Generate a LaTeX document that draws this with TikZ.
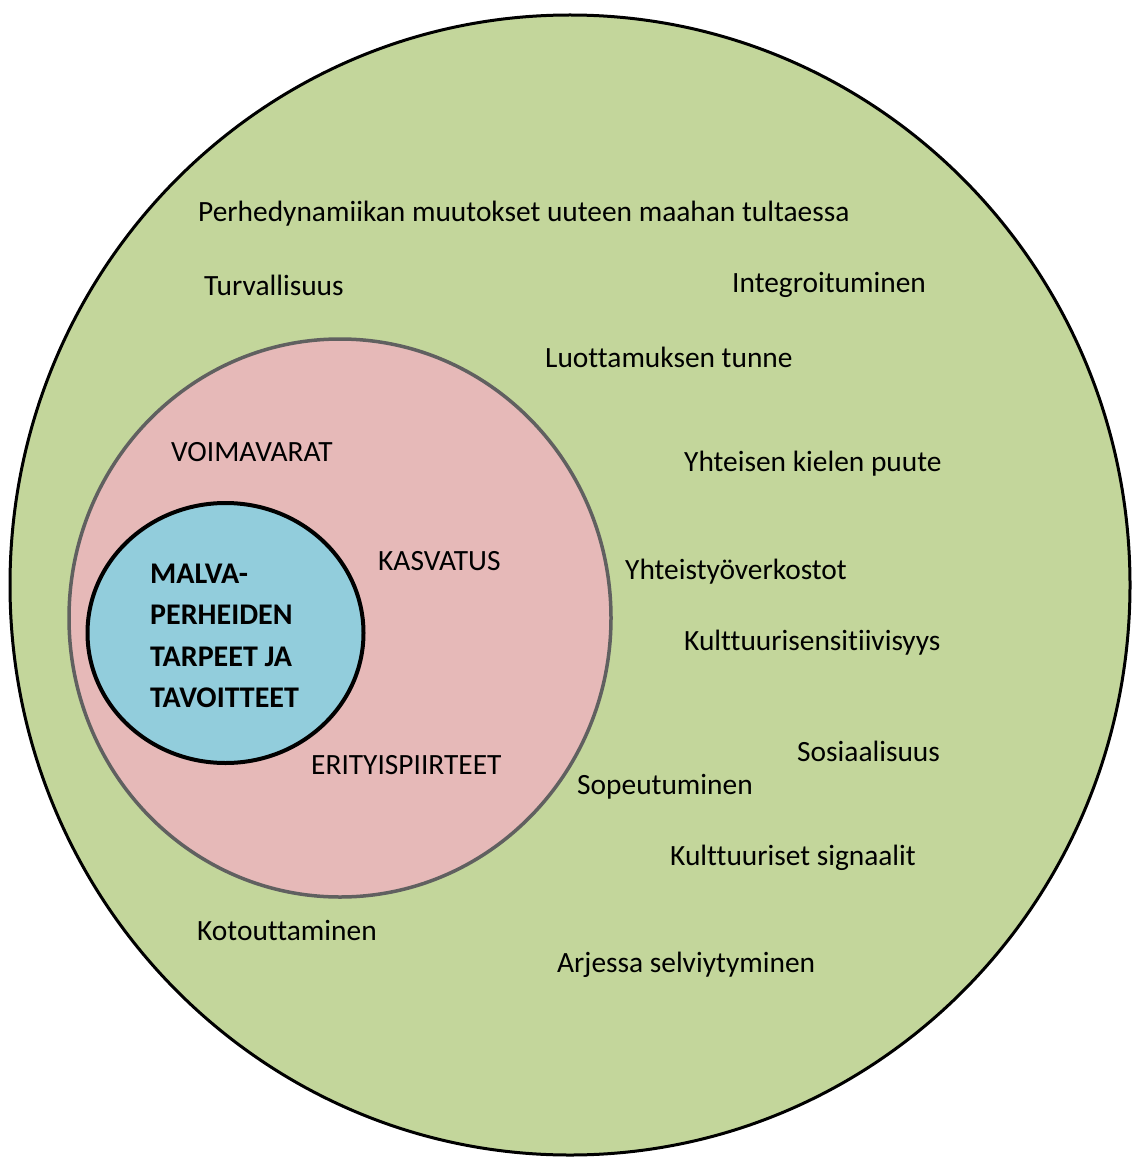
\documentclass[tikz,border=0pt]{standalone}
\usepackage{fontspec}
\setmainfont[Ligatures=NoCommon]{Carlito}
\usepackage{xcolor}
\usetikzlibrary{positioning}

\definecolor{outergreen}{HTML}{C3D69B}
\definecolor{middlepink}{HTML}{E6B9B8}
\definecolor{innerblue}{HTML}{92CDDC}
\definecolor{ringgray}{HTML}{606060}

\begin{document}
\begin{tikzpicture}[
    x=1pt, y=-1pt,
    lbl/.style={anchor=west, inner sep=0pt, font=\fontsize{29.4}{34}\selectfont},
    core/.style={anchor=west, inner sep=0pt, align=left, font=\fontsize{30}{41.3}\selectfont\bfseries}
]
    \useasboundingbox (0,0) rectangle (1134,1158);

    % circles
    \draw[line width=3pt, fill=outergreen] (570,585) ellipse [x radius=560, y radius=570];
    \draw[line width=3.5pt, draw=ringgray, fill=middlepink] (340,618) ellipse [x radius=271, y radius=279];
    \draw[line width=4pt, fill=innerblue] (225.5,633) ellipse [x radius=138, y radius=130];

    % outer ring
    \node[lbl] (perhe) at (198,214) {Perhedynamiikan muutokset uuteen maahan tultaessa};
    \node[lbl] (turva) at (204,285) {Turvallisuus};
    \node[lbl] (integ) at (732,285) {Integroituminen};
    \node[lbl] (luotto) at (545,357) {Luottamuksen tunne};
    \node[lbl] (kieli) at (684,464) {Yhteisen kielen puute};
    \node[lbl] (verkko) at (625,572) {Yhteistyöverkostot};
    \node[lbl] (sensit) at (684,643) {Kulttuurisensitiivisyys};
    \node[lbl] (sosiaal) at (797,751) {Sosiaalisuus};
    \node[lbl] (sopeu) at (577,787) {Sopeutuminen};
    \node[lbl] (signaal) at (670,858) {Kulttuuriset signaalit};
    \node[lbl] (kotout) at (197,930) {Kotouttaminen};
    \node[lbl] (arki) at (557,965) {Arjessa selviytyminen};

    % middle ring
    \node[lbl] (voima) at (171,452) {VOIMAVARAT};
    \node[lbl] (kasvatus) at (378,561) {KASVATUS};
    \node[lbl] (erityis) at (311,765) {ERITYISPIIRTEET};

    % core
    \node[core] (malva) at (150,636) {MALVA-\\PERHEIDEN\\TARPEET JA\\TAVOITTEET};
\end{tikzpicture}
\end{document}
